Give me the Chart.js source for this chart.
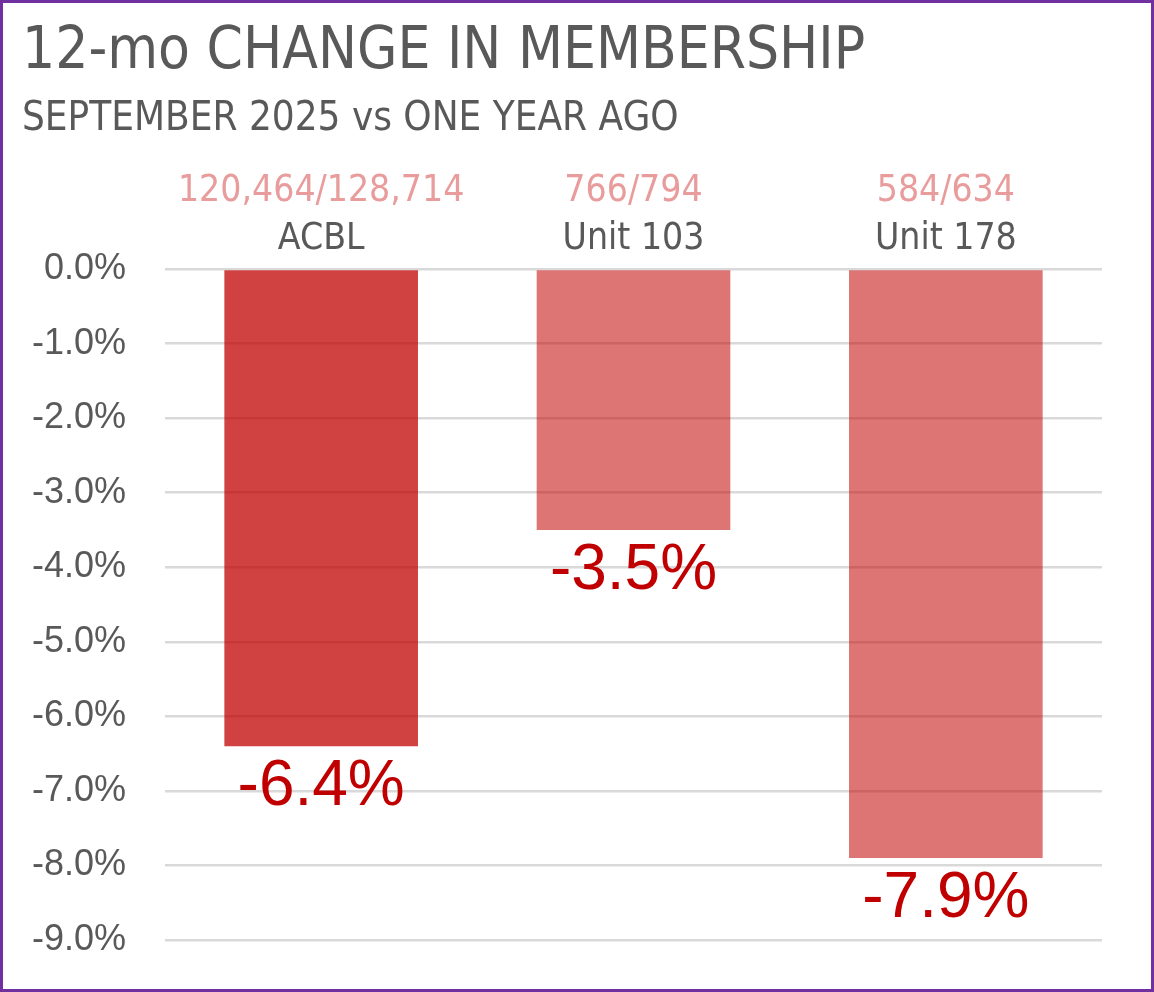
<!DOCTYPE html>
<html>
<head>
<meta charset="utf-8">
<script src="https://cdn.jsdelivr.net/npm/chart.js@4"></script>
<style>
  html, body { margin: 0; padding: 0; background: #fff; }
  #wrap {
    box-sizing: border-box;
    width: 1154px; height: 992px;
    border: 3px solid #7030a0;
    position: relative;
  }
</style>
</head>
<body>
<div id="wrap"><canvas id="memberChart" width="1148" height="986"></canvas></div>
<script>
const units = ["ACBL", "Unit 103", "Unit 178"];
const counts = ["120,464/128,714", "766/794", "584/634"];
const pctChange = [-6.4, -3.5, -7.9];
const barColors = ["rgba(192,0,0,0.74)", "rgba(192,0,0,0.54)", "rgba(192,0,0,0.54)"];

const condensed = "'Liberation Sans Narrow', 'DejaVu Sans Condensed', 'Liberation Sans', sans-serif";
const gray = "#595959";

// draws the big red % under each bar
const valueLabels = {
    id: "valueLabels",
    afterDatasetsDraw(chart) {
        const ctx = chart.ctx;
        const meta = chart.getDatasetMeta(0);
        ctx.save();
        ctx.font = "64px 'Liberation Sans', Arial, sans-serif";
        ctx.fillStyle = "#c00000";
        ctx.textAlign = "center";
        ctx.textBaseline = "alphabetic";
        meta.data.forEach((bar, i) => {
            ctx.fillText(pctChange[i].toFixed(1) + "%", bar.x, bar.y + 59);
        });
        ctx.restore();
    }
};

document.addEventListener("DOMContentLoaded", function () {
    const ctx = document.getElementById("memberChart").getContext("2d");

    new Chart(ctx, {
        type: "bar",
        data: {
            labels: units,
            datasets: [{
                label: "12-mo change",
                data: pctChange,
                backgroundColor: barColors,
                borderWidth: 0,
                categoryPercentage: 1,
                barPercentage: 0.62
            }]
        },
        options: {
            responsive: false,
            animation: false,
            layout: {
                padding: { left: 19, right: 49, top: 15, bottom: 49 }
            },
            scales: {
                x: {
                    position: "top",
                    weight: 0,
                    grid: { display: false, drawTicks: false },
                    border: { display: false },
                    ticks: {
                        color: gray,
                        padding: 21,
                        maxRotation: 0,
                        autoSkip: false,
                        font: { family: condensed, size: 37, lineHeight: 0.46 }
                    }
                },
                x2: {
                    type: "category",
                    labels: counts,
                    position: "top",
                    weight: 1,
                    grid: { display: false, drawTicks: false },
                    border: { display: false },
                    ticks: {
                        color: "#e89c9c",
                        padding: 0,
                        maxRotation: 0,
                        autoSkip: false,
                        font: { family: condensed, size: 37, lineHeight: 1 }
                    }
                },
                y: {
                    min: -9,
                    max: 0,
                    afterFit: function (scale) {
                        scale.width = 143;
                        // tick padding would otherwise push the plot bottom up
                        scale.paddingTop = 0;
                        scale.paddingBottom = 0;
                    },
                    grid: {
                        color: "#d9d9d9",
                        lineWidth: 2.5,
                        drawTicks: false
                    },
                    border: { display: false },
                    ticks: {
                        stepSize: 1,
                        padding: 39,
                        color: gray,
                        font: { family: "'Liberation Sans', Arial, sans-serif", size: 36 },
                        callback: function (v) { return v.toFixed(1) + "%"; }
                    }
                }
            },
            plugins: {
                legend: { display: false },
                tooltip: { enabled: false },
                title: {
                    display: true,
                    text: "12-mo CHANGE IN MEMBERSHIP",
                    align: "start",
                    color: gray,
                    font: { family: condensed, size: 58, weight: "normal" },
                    padding: { top: 0, bottom: 8 }
                },
                subtitle: {
                    display: true,
                    text: "SEPTEMBER 2025 vs ONE YEAR AGO",
                    align: "start",
                    color: gray,
                    font: { family: condensed, size: 40, weight: "normal" },
                    padding: { top: 0, bottom: 29.5 }
                }
            }
        },
        plugins: [valueLabels]
    });
});
</script>
</body>
</html>
